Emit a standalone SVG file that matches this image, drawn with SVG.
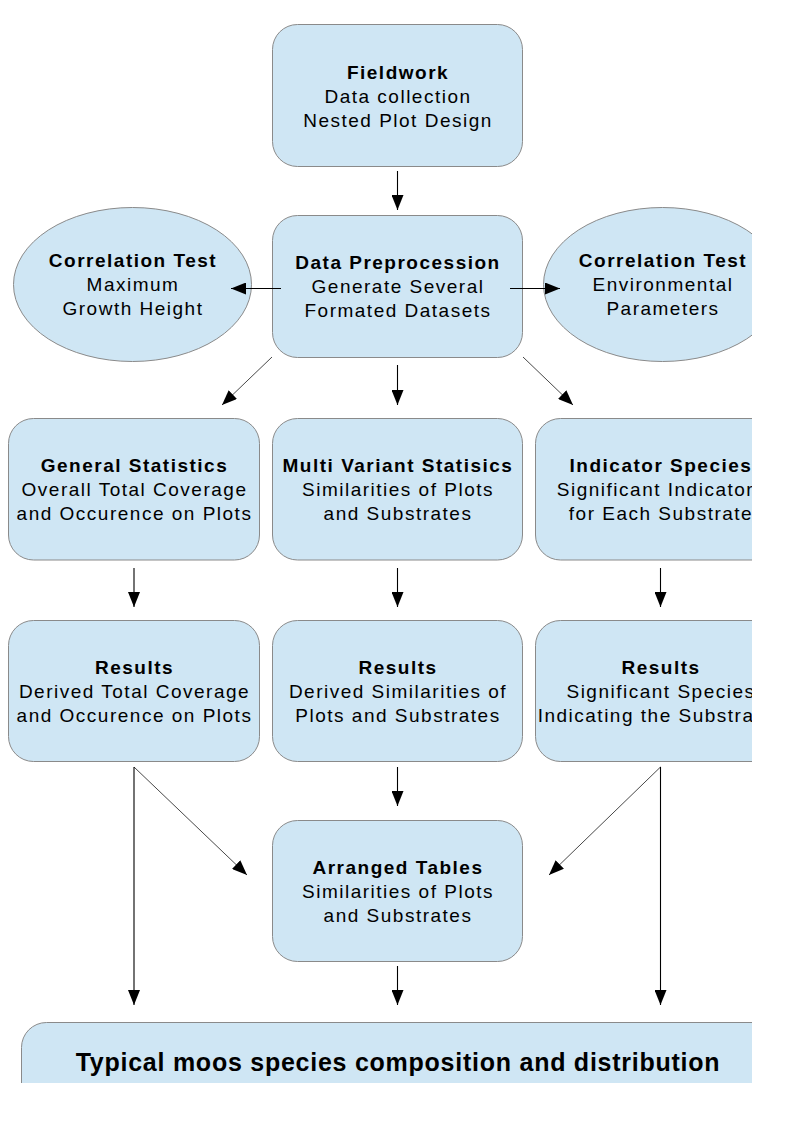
<svg xmlns="http://www.w3.org/2000/svg" width="794" height="1123" viewBox="0 0 794 1123">
<style>
.box{fill:#cfe6f4;stroke:#8a8a8a;stroke-width:1}
.t{font-family:"Liberation Sans",Arial,sans-serif;font-size:19px;letter-spacing:1.5px;text-anchor:middle;fill:#000}
.b{font-weight:bold}
.big{font-family:"Liberation Sans",Arial,sans-serif;font-size:25px;font-weight:bold;letter-spacing:0.75px;text-anchor:middle;fill:#000}
.c{stroke:#000;stroke-width:1.1;fill:none;marker-end:url(#ah)}
.d{stroke:#333;stroke-width:0.9;fill:none;marker-end:url(#ah)}
</style>
<defs>
<marker id="ah" markerUnits="userSpaceOnUse" markerWidth="16" markerHeight="12" refX="15" refY="6" orient="auto">
<path d="M0,0 L15,6 L0,12 z" fill="#000"/>
</marker>
<clipPath id="page"><rect x="0" y="0" width="752" height="1083"/></clipPath>
</defs>
<rect width="794" height="1123" fill="#fff"/>
<g clip-path="url(#page)">
<g id="fieldwork">
<rect class="box" x="272.5" y="24.5" width="250" height="142" rx="25"/>
<text class="t b" x="398" y="79">Fieldwork</text>
<text class="t" x="398" y="103">Data collection</text>
<text class="t" x="398" y="127">Nested Plot Design</text>
</g>
<g id="preprocession">
<rect class="box" x="272.5" y="215.5" width="250" height="142" rx="25"/>
<text class="t b" x="398" y="269">Data Preprocession</text>
<text class="t" x="398" y="293">Generate Several</text>
<text class="t" x="398" y="317">Formated Datasets</text>
</g>
<g id="corr-height">
<ellipse class="box" cx="132.5" cy="284.5" rx="119" ry="77"/>
<text class="t b" x="133" y="267">Correlation Test</text>
<text class="t" x="133" y="291">Maximum</text>
<text class="t" x="133" y="315">Growth Height</text>
</g>
<g id="corr-env">
<ellipse class="box" cx="662.5" cy="284.5" rx="119" ry="77"/>
<text class="t b" x="663" y="267">Correlation Test</text>
<text class="t" x="663" y="291">Environmental</text>
<text class="t" x="663" y="315">Parameters</text>
</g>
<g id="general-stats">
<rect class="box" x="8.5" y="418.5" width="251" height="141.5" rx="25"/>
<text class="t b" x="134.5" y="472">General Statistics</text>
<text class="t" x="134.5" y="496">Overall Total Coverage</text>
<text class="t" x="134.5" y="520">and Occurence on Plots</text>
</g>
<g id="multi-variant">
<rect class="box" x="272.5" y="418.5" width="250" height="141.5" rx="25"/>
<text class="t b" x="398" y="472">Multi Variant Statisics</text>
<text class="t" x="398" y="496">Similarities of Plots</text>
<text class="t" x="398" y="520">and Substrates</text>
</g>
<g id="indicator">
<rect class="box" x="535.5" y="418.5" width="251" height="141.5" rx="25"/>
<text class="t b" x="661" y="472">Indicator Species</text>
<text class="t" x="661" y="496">Significant Indicators</text>
<text class="t" x="661" y="520">for Each Substrate</text>
</g>
<g id="results-general">
<rect class="box" x="8.5" y="620.5" width="251" height="141" rx="25"/>
<text class="t b" x="134.5" y="674">Results</text>
<text class="t" x="134.5" y="698">Derived Total Coverage</text>
<text class="t" x="134.5" y="722">and Occurence on Plots</text>
</g>
<g id="results-multi">
<rect class="box" x="272.5" y="620.5" width="250" height="141" rx="25"/>
<text class="t b" x="398" y="674">Results</text>
<text class="t" x="398" y="698">Derived Similarities of</text>
<text class="t" x="398" y="722">Plots and Substrates</text>
</g>
<g id="results-indicator">
<rect class="box" x="535.5" y="620.5" width="251" height="141" rx="25"/>
<text class="t b" x="661" y="674">Results</text>
<text class="t" x="661" y="698">Significant Species</text>
<text class="t" x="661" y="722">Indicating the Substrates</text>
</g>
<g id="arranged">
<rect class="box" x="272.5" y="820.5" width="250" height="141" rx="25"/>
<text class="t b" x="398" y="874">Arranged Tables</text>
<text class="t" x="398" y="898">Similarities of Plots</text>
<text class="t" x="398" y="922">and Substrates</text>
</g>
<g id="typical">
<rect class="box" x="21.5" y="1022.5" width="760" height="120" rx="25"/>
<text class="big" x="398" y="1071">Typical moos species composition and distribution</text>
</g>
<g id="connectors">
<line class="c" x1="397.5" y1="171" x2="397.5" y2="210"/>
<line class="c" x1="281" y1="288.5" x2="231" y2="288.5"/>
<line class="c" x1="510" y1="288.5" x2="560" y2="288.5"/>
<line class="d" x1="272" y1="357" x2="222" y2="405"/>
<line class="c" x1="397.5" y1="365" x2="397.5" y2="405"/>
<line class="d" x1="523" y1="357" x2="573" y2="405"/>
<line class="c" x1="134" y1="568" x2="134" y2="607"/>
<line class="c" x1="397.5" y1="568" x2="397.5" y2="607"/>
<line class="c" x1="660.5" y1="568" x2="660.5" y2="607"/>
<line class="c" x1="397.5" y1="767" x2="397.5" y2="806"/>
<line class="d" x1="134" y1="767" x2="247" y2="875"/>
<line class="d" x1="660.5" y1="767" x2="549" y2="875"/>
<line class="c" x1="134" y1="767" x2="134" y2="1005"/>
<line class="c" x1="660.5" y1="767" x2="660.5" y2="1005"/>
<line class="c" x1="397.5" y1="966" x2="397.5" y2="1005"/>
</g>
</g>
</svg>
